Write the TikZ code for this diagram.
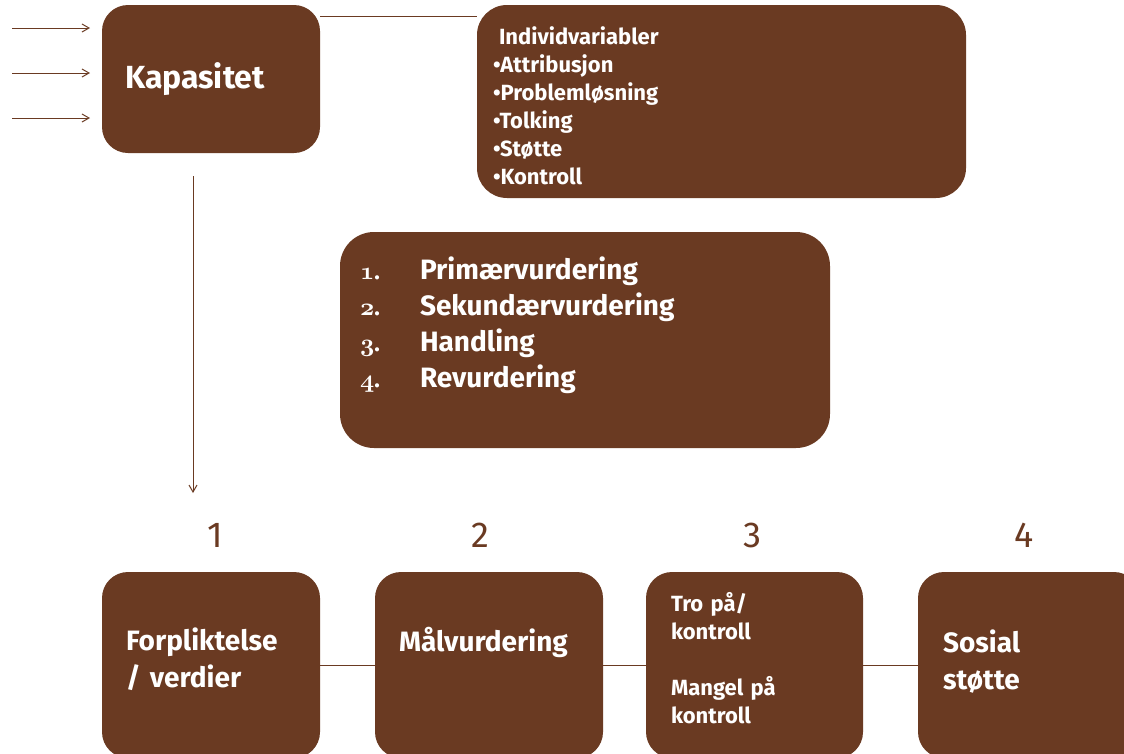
\documentclass[tikz,border=0pt]{standalone}
\usepackage{fontspec}
\setmainfont{Fira Sans}
\usetikzlibrary{arrows.meta}
\definecolor{brun}{RGB}{106,58,34}
\newcommand{\osnum}[1]{{\usefont{OML}{cmm}{b}{it}#1}.}
\newcommand{\dn}[1]{\rule[-#1]{0pt}{0pt}}
\begin{document}
\begin{tikzpicture}[x=1pt,y=-1pt,
    box/.style={fill=brun, draw=none, rounded corners=26pt, text=white,
                font=\bfseries, align=left},
    num/.style={text=brun, font=\fontsize{36}{40}\selectfont},
    link/.style={draw=brun, line width=1pt},
    flow/.style={link, -{Straight Barb[length=7pt,width=8pt]}}]
  \useasboundingbox (0,0) rectangle (1124,753);

  % top row
  \node[box, minimum width=218, minimum height=148, text width=172, inner xsep=23,
        font=\bfseries\fontsize{32}{38}\selectfont] (kap) at (211,79) {Kapasitet};
  \node[box, rounded corners=30pt, minimum width=489, minimum height=193, text width=457,
        inner xsep=16, font=\bfseries\fontsize{22}{28}\selectfont] (indiv) at (721.5,101.5)
        {\rule{0pt}{26pt}\hspace{6pt}Individvariabler\\ \textbullet Attribusjon\\
         \textbullet Problemløsning\\ \textbullet Tolking\\ \textbullet Støtte\\
         \textbullet Kontroll};

  % inputs to Kapasitet
  \foreach \y [count=\i] in {28,73,118} {
    \coordinate (in\i a) at (12,\y);
    \coordinate (in\i b) at (90,\y);
    \draw[flow] (in\i a) -- (in\i b);
  }
  \draw[link] ([yshift=-12pt]kap.north east) -- ([yshift=-12pt]indiv.north west);

  % appraisal steps
  \node[box, rounded corners=34pt, minimum width=490, minimum height=216, text width=450,
        inner xsep=20, font=\bfseries\fontsize{28}{36}\selectfont] (steps) at (585,340)
        {\makebox[60pt][l]{\fontsize{23}{36}\selectfont\osnum{1}}Primærvurdering\\
         \makebox[60pt][l]{\fontsize{23}{36}\selectfont\osnum{2}}Sekundærvurdering\\
         \makebox[60pt][l]{\fontsize{23}{36}\selectfont\osnum{3}}Handling\\
         \makebox[60pt][l]{\fontsize{23}{36}\selectfont\osnum{4}}Revurdering\\ \mbox{}};

  % arrow down to the chain
  \coordinate (downa) at (193,176);
  \coordinate (downb) at (193,493);
  \draw[flow] (downa) -- (downb);

  % numbers over the chain
  \node[num] (n1) at (215,535) {1};
  \node[num] (n2) at (480,535) {2};
  \node[num] (n3) at (752,535) {3};
  \node[num] (n4) at (1024,535) {4};

  % bottom chain
  \node[box, minimum width=218, minimum height=186, text width=170, inner xsep=24,
        font=\bfseries\fontsize{28}{37}\selectfont] (b1) at (211,665)
        {Forpliktelse\\ / verdier\dn{14pt}};
  \node[box, minimum width=228, minimum height=186, text width=180, inner xsep=24,
        font=\bfseries\fontsize{28}{37}\selectfont] (b2) at (489,665)
        {Målvurdering\\ \mbox{}\dn{14pt}};
  \node[box, minimum width=217, minimum height=186, text width=167, inner xsep=25,
        font=\bfseries\fontsize{22}{28}\selectfont] (b3) at (754.5,665)
        {Tro på/\\ kontroll\\[28pt] Mangel på\\ kontroll\dn{14pt}};
  \node[box, minimum width=222, minimum height=186, text width=172, inner xsep=25,
        font=\bfseries\fontsize{28}{37}\selectfont] (b4) at (1029,665)
        {Sosial\\ støtte\dn{10pt}};
  \draw[link] (b1) -- (b2);
  \draw[link] (b2) -- (b3);
  \draw[link] (b3) -- (b4);
\end{tikzpicture}
\end{document}
